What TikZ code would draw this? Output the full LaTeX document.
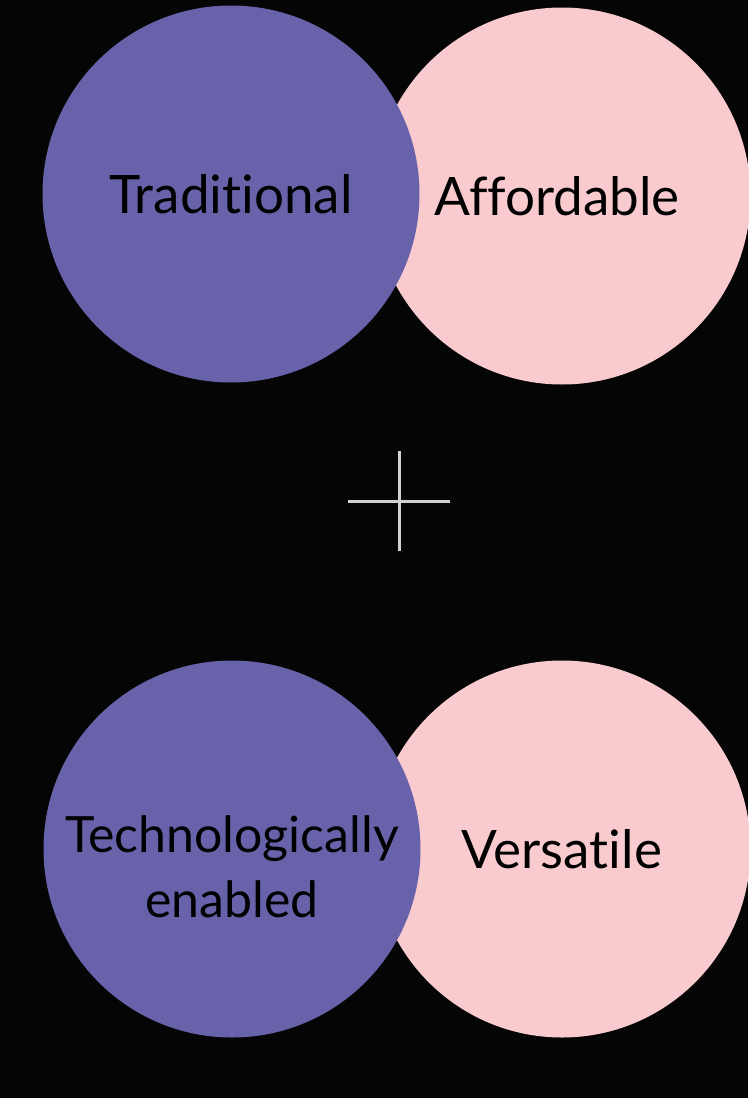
\documentclass[tikz,border=0pt]{standalone}
\usepackage{fontspec}
\setmainfont[Ligatures=NoCommon]{Lato}
\usepackage{xcolor}
\usetikzlibrary{positioning}

\definecolor{bgdark}{HTML}{050505}
\definecolor{lavender}{HTML}{6862AA}
\definecolor{blush}{HTML}{F9CBCE}
\definecolor{crossgray}{HTML}{D2D2D2}

\begin{document}
\begin{tikzpicture}[
  x=1pt,y=-1pt,
  words/.style={align=center,inner sep=0pt,
    font=\fontsize{53}{65}\selectfont,text=black},
  disc/.style={circle,minimum size=377pt,inner sep=0pt,words},
  lilac/.style={disc,fill=lavender},
  rose/.style={disc,fill=blush},
  cross/.style={draw=crossgray,line width=3pt}
]
\fill[bgdark] (0,0) rectangle (748,1098);
\useasboundingbox (0,0) rectangle (748,1098);

% upper pair
\node[rose] (afford) at (562,196) {\hspace*{-10pt}Affordable};
\node[lilac] (trad) at (231,194) {Traditional};

% plus sign between the pairs
\coordinate (plus) at (399,501);
\coordinate (plusW) at (348,501);
\coordinate (plusE) at (450,501);
\coordinate (plusN) at (399,451);
\coordinate (plusS) at (399,551);
\draw[cross] (plusW) -- (plusE);
\draw[cross] (plusN) -- (plusS);

% lower pair, two-line text sits a bit low
\node[rose] (versa) at (562,849) {Versatile};
\node[lilac] (tech) at (232,849) {};
\node[words,font=\fontsize{50}{65}\selectfont] (techtext)
  at ([yshift=-18pt]tech.center) {Technologically\\enabled};
\end{tikzpicture}
\end{document}
